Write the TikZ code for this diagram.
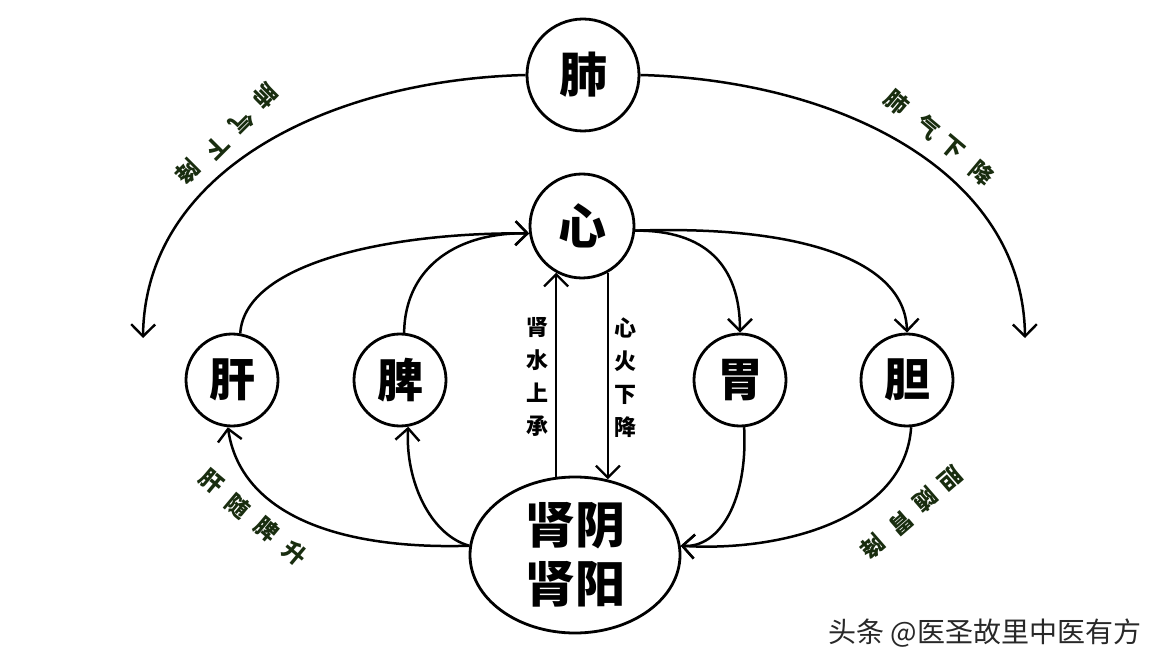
\documentclass[tikz,border=0pt]{standalone}
\usepackage{fontspec}
\newfontfamily\cjk{Noto Sans CJK SC}
\usetikzlibrary{arrows.meta,shapes.geometric}
\definecolor{labgreen}{RGB}{25,45,15}
\definecolor{wmgray}{RGB}{40,40,40}
\tikzset{
  organ/.style={draw, circle, line width=2.8pt, minimum size=92pt, inner sep=0pt,
    font=\cjk\bfseries\fontsize{46}{46}\selectfont},
  kidney/.style={draw, ellipse, line width=2.8pt, minimum width=210pt, minimum height=156pt,
    inner sep=0pt, align=center, font=\cjk\bfseries\fontsize{50}{59}\selectfont},
  arr/.style={line width=2.5pt, -{Straight Barb[length=12pt,width=24pt,line width=2.4pt]}},
  lab/.style={font=\cjk\bfseries\fontsize{23}{23}\selectfont, text=labgreen, inner sep=0pt},
  vlab/.style={font=\cjk\bfseries\fontsize{22}{33}\selectfont, align=center, inner sep=0pt},
}
\begin{document}
\begin{tikzpicture}[x=1pt,y=-1pt]
\useasboundingbox[fill=white] (0,0) rectangle (1170,668);

% organs
\node[organ, minimum size=112pt, font=\cjk\bfseries\fontsize{48}{48}\selectfont] (fei) at (583,75) {肺};
\node[organ, minimum size=104pt, font=\cjk\bfseries\fontsize{48}{48}\selectfont] (xin) at (582,226) {心};
\node[organ] (gan) at (232,380) {肝};
\node[organ] (pi) at (400,380) {脾};
\node[organ] (wei) at (740,380) {胃};
\node[organ] (dan) at (907,380) {胆};
\node[kidney] (shen) at (575,555) {肾阴\\肾阳};

% lung arcs
\coordinate (lend) at (143,338);
\coordinate (rend) at (1025,338);
\draw[arr] (fei.180) .. controls (330,80) and (145,170) .. (lend);
\draw[arr] (fei.0) .. controls (836,80) and (1023,170) .. (rend);

% heart to stomach / gallbladder
\draw[arr] (xin.355) .. controls (705,230) and (740,265) .. (wei.north);
\draw[arr] (xin.355) .. controls (800,225) and (905,260) .. (dan.north);

% liver / spleen to heart
\draw[arr] (gan.80) .. controls (245,260) and (400,232) .. (xin.188);
\draw[arr] (pi.85) .. controls (405,265) and (460,232) .. (xin.188);

% heart <-> kidney
\draw[arr] (xin.241 |- shen.104) -- (xin.241);
\draw[arr] (xin.299) -- (xin.299 |- shen.67);

% kidney to liver / spleen
\draw[arr] (shen.175) .. controls (330,550) and (240,510) .. (gan.265);
\draw[arr] (shen.175) .. controls (430,535) and (405,480) .. (pi.280);

% stomach / gallbladder to kidney
\draw[arr] (wei.275) .. controls (748,500) and (720,548) .. (shen.5);
\draw[arr] (dan.275) .. controls (905,520) and (780,552) .. (shen.5);

% vertical labels
\node[vlab] (lup) at (537,377) {肾\\水\\上\\承};
\node[vlab] (ldown) at (625,378) {心\\火\\下\\降};

% arc labels
\foreach \c/\x/\y [count=\i] in {肺/265/96, 气/242/122, 下/217/147, 降/188/172}
  \node[lab, rotate=225] (tl\i) at (\x,\y) {\c};
\foreach \c/\x/\y [count=\i] in {肺/897/102, 气/928/127, 下/952/148, 降/982/173}
  \node[lab, rotate=-40] (tr\i) at (\x,\y) {\c};
\foreach \c/\x/\y [count=\i] in {肝/212/482, 随/238/506, 脾/267/529, 升/295/553}
  \node[lab, rotate=-40] (bl\i) at (\x,\y) {\c};
\foreach \c/\x/\y [count=\i] in {胆/950/478, 随/926/500, 胃/901/523, 降/873/547}
  \node[lab, rotate=221] (br\i) at (\x,\y) {\c};

% watermark
\node[font=\cjk\fontsize{28}{28}\selectfont, text=wmgray, inner sep=0pt] (wm) at (985,633) {头条 @医圣故里中医有方};
\end{tikzpicture}
\end{document}
